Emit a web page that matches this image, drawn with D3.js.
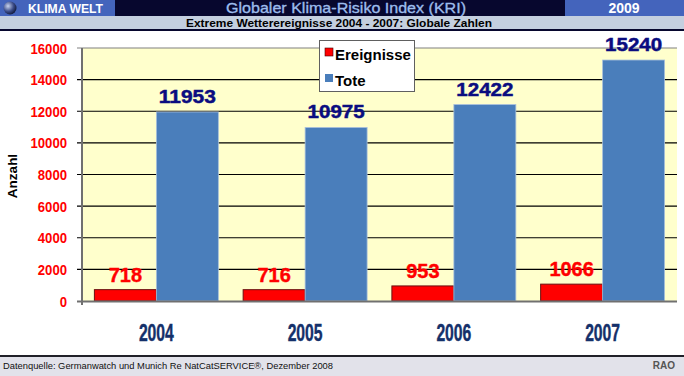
<!DOCTYPE html>
<html>
  <head>
    <meta charset="utf-8">
    <script src="https://d3js.org/d3.v7.min.js"></script>
    <style>
      body { margin: 0; background: #fff; }
      text { font-family: "Liberation Sans", Arial, sans-serif; }
    </style>
  </head>
<body>
  <script type="text/javascript">
      "use strict";

      // chart data
      var years = ["2004", "2005", "2006", "2007"];
      var series = ["Ereignisse", "Tote"];
      var ereignisse = [718, 716, 953, 1066];
      var tote = [11953, 10975, 12422, 15240];
      var yTicks = [0, 2000, 4000, 6000, 8000, 10000, 12000, 14000, 16000];

      var width = 684, height = 376;
      var plotLeft = 82, plotRight = 677, plotTop = 48, plotBottom = 301;

      var svg = d3.select("body").append("svg")
          .attr("width", width)
          .attr("height", height);

      /*
        Header bars
      */
      svg.append("rect").attr("x", 0).attr("y", 0).attr("width", width).attr("height", 16).attr("fill", "#07072e");
      svg.append("rect").attr("x", 0).attr("y", 0).attr("width", 115).attr("height", 16).attr("fill", "#4464bc");
      svg.append("rect").attr("x", 565).attr("y", 0).attr("width", 119).attr("height", 16).attr("fill", "#4464bc");

      // little globe
      var grad = svg.append("defs").append("radialGradient")
          .attr("id", "globe").attr("cx", "35%").attr("cy", "35%").attr("r", "70%");
      grad.append("stop").attr("offset", "0%").attr("stop-color", "#c8d4f0");
      grad.append("stop").attr("offset", "60%").attr("stop-color", "#3c4c88");
      grad.append("stop").attr("offset", "100%").attr("stop-color", "#101838");
      svg.append("circle").attr("cx", 10).attr("cy", 8).attr("r", 6.5).attr("fill", "url(#globe)");

      svg.append("text").attr("x", 28).attr("y", 13)
          .style("font-size", "12.5px").style("font-weight", "bold").attr("fill", "#fff")
          .attr("textLength", 75).attr("lengthAdjust", "spacingAndGlyphs")
          .text("KLIMA WELT");

      svg.append("text").attr("x", 346).attr("y", 13).attr("text-anchor", "middle")
          .style("font-size", "15px").attr("fill", "#9cbcec")
          .attr("stroke", "#9cbcec").attr("stroke-width", 0.35)
          .attr("textLength", 240).attr("lengthAdjust", "spacingAndGlyphs")
          .text("Globaler Klima-Risiko Index (KRI)");

      svg.append("text").attr("x", 624).attr("y", 13).attr("text-anchor", "middle")
          .style("font-size", "14px").style("font-weight", "bold").attr("fill", "#fff")
          .text("2009");

      // subtitle row
      svg.append("rect").attr("x", 0).attr("y", 16).attr("width", width).attr("height", 13).attr("fill", "#c4cfdf");
      svg.append("rect").attr("x", 0).attr("y", 29).attr("width", width).attr("height", 2).attr("fill", "#07072e");
      svg.append("text").attr("x", 339).attr("y", 26.5).attr("text-anchor", "middle")
          .style("font-size", "11.5px").style("font-weight", "bold").attr("fill", "#000")
          .attr("textLength", 306).attr("lengthAdjust", "spacingAndGlyphs")
          .text("Extreme Wetterereignisse 2004 - 2007: Globale Zahlen");

      /*
        Plot area
      */
      var x = d3.scaleBand().domain(years).range([plotLeft, plotRight]);
      var x1 = d3.scaleBand().domain(series).range([0, x.bandwidth()]).paddingOuter(0.2);
      var y = d3.scaleLinear().domain([0, 16000]).range([plotBottom, plotTop]);

      svg.append("rect").attr("x", plotLeft).attr("y", plotTop)
          .attr("width", plotRight - plotLeft).attr("height", plotBottom - plotTop)
          .attr("fill", "#ffffcc");

      // grid lines + ticks
      svg.append("g").selectAll("line").data(yTicks.slice(1)).enter().append("line")
          .attr("x1", plotLeft - 5).attr("x2", plotRight)
          .attr("y1", function (d) { return y(d); })
          .attr("y2", function (d) { return y(d); })
          .attr("stroke", function (d) { return d === 16000 ? "#808080" : "#000"; })
          .attr("stroke-width", 1.2);

      // y tick labels
      svg.append("g").selectAll("text").data(yTicks).enter().append("text")
          .attr("x", 67).attr("y", function (d) { return y(d) + 5.5; })
          .attr("text-anchor", "end")
          .style("font-size", "15px").style("font-weight", "bold")
          .attr("fill", "#ff0000")
          .attr("textLength", function (d) { return String(d).length * 7.3; })
          .attr("lengthAdjust", "spacingAndGlyphs")
          .text(function (d) { return d; });

      // y title
      svg.append("text")
          .attr("transform", "translate(17," + 176 + ") rotate(-90)")
          .attr("text-anchor", "middle")
          .style("font-size", "13.5px").style("font-weight", "bold")
          .attr("fill", "#000")
          .text("Anzahl");

      // bars
      var groups = svg.append("g").selectAll("g").data(years).enter().append("g")
          .attr("transform", function (d) { return "translate(" + x(d) + ",0)"; });

      groups.append("rect")
          .attr("x", x1("Ereignisse"))
          .attr("y", function (d, i) { return y(ereignisse[i]); })
          .attr("width", x1.bandwidth())
          .attr("height", function (d, i) { return plotBottom - y(ereignisse[i]); })
          .attr("fill", "#ff0000").attr("stroke", "#6a1010").attr("stroke-width", 1);

      groups.append("rect")
          .attr("x", x1("Tote"))
          .attr("y", function (d, i) { return y(tote[i]); })
          .attr("width", x1.bandwidth())
          .attr("height", function (d, i) { return plotBottom - y(tote[i]); })
          .attr("fill", "#4a7ebb").attr("stroke", "#a8c0dc").attr("stroke-width", 0.8);

      // value labels
      groups.append("text")
          .attr("x", x1("Ereignisse") + x1.bandwidth() / 2)
          .attr("y", function (d, i) { return y(ereignisse[i]) - 8; })
          .attr("text-anchor", "middle")
          .style("font-size", "20px").style("font-weight", "bold")
          .attr("fill", "#ff0000").attr("stroke", "#ff0000").attr("stroke-width", 0.4)
          .text(function (d, i) { return ereignisse[i]; });

      groups.append("text")
          .attr("x", x1("Tote") + x1.bandwidth() / 2)
          .attr("y", function (d, i) { return y(tote[i]) - 9; })
          .attr("text-anchor", "middle")
          .style("font-size", "19px").style("font-weight", "bold")
          .attr("fill", "#0a0c80").attr("stroke", "#0a0c80").attr("stroke-width", 0.5)
          .attr("textLength", 57).attr("lengthAdjust", "spacingAndGlyphs")
          .text(function (d, i) { return tote[i]; });

      // axes lines
      svg.append("line").attr("x1", plotLeft).attr("x2", plotLeft).attr("y1", plotTop).attr("y2", plotBottom + 4)
          .attr("stroke", "#707070").attr("stroke-width", 2);
      svg.append("line").attr("x1", plotLeft - 5).attr("x2", plotRight).attr("y1", plotBottom + 0.5).attr("y2", plotBottom + 0.5)
          .attr("stroke", "#707070").attr("stroke-width", 2);

      // x labels
      svg.append("g").selectAll("text").data(years).enter().append("text")
          .attr("x", function (d) { return x(d) + x.bandwidth() / 2; })
          .attr("y", 341)
          .attr("text-anchor", "middle")
          .style("font-size", "23px").style("font-weight", "bold")
          .attr("fill", "#14306a").attr("stroke", "#14306a").attr("stroke-width", 0.4)
          .attr("textLength", 35).attr("lengthAdjust", "spacingAndGlyphs")
          .text(function (d) { return d; });

      /*
        Legend
      */
      var legend = svg.append("g");
      legend.append("rect").attr("x", 319.5).attr("y", 40.5).attr("width", 95).attr("height", 51)
          .attr("fill", "#fff").attr("stroke", "#606060").attr("stroke-width", 1);
      var legColors = ["#ff0000", "#4a7ebb"];
      series.forEach(function (s, i) {
        legend.append("rect").attr("x", 325).attr("y", 48 + i * 26).attr("width", 8).attr("height", 8)
            .attr("fill", legColors[i]).attr("stroke", i === 0 ? "#400" : "none").attr("stroke-width", 0.6);
        legend.append("text").attr("x", 335).attr("y", 60 + i * 26)
            .style("font-size", "15px").style("font-weight", "bold").attr("fill", "#000")
            .text(s);
      });

      /*
        Footer
      */
      svg.append("rect").attr("x", 0).attr("y", 355).attr("width", width).attr("height", 2).attr("fill", "#202028");
      svg.append("rect").attr("x", 0).attr("y", 357).attr("width", width).attr("height", 19).attr("fill", "#e2e2ea");
      svg.append("text").attr("x", 3).attr("y", 369)
          .style("font-size", "9.5px").attr("fill", "#111")
          .attr("textLength", 330).attr("lengthAdjust", "spacingAndGlyphs")
          .text("Datenquelle: Germanwatch und Munich Re NatCatSERVICE®, Dezember 2008");
      svg.append("text").attr("x", 675).attr("y", 369).attr("text-anchor", "end")
          .style("font-size", "10px").style("font-weight", "bold").attr("fill", "#555")
          .text("RAO");
  </script>
</body>
</html>
